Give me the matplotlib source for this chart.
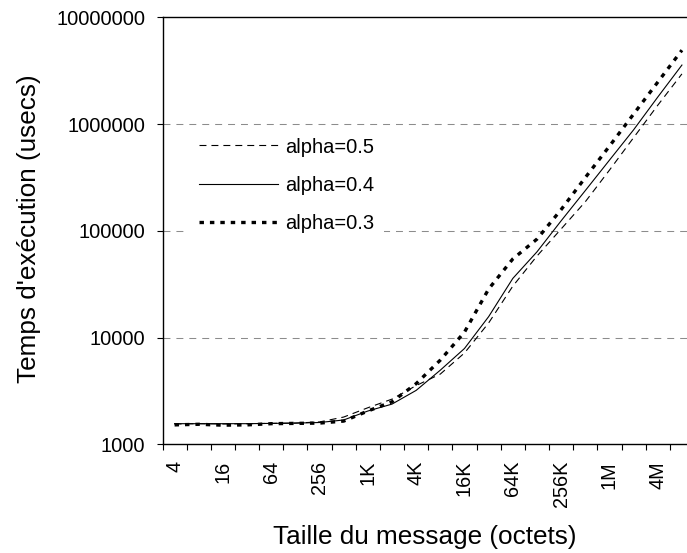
import numpy as np
import matplotlib
matplotlib.use("Agg")
import matplotlib.pyplot as plt
from matplotlib.ticker import FixedLocator, FuncFormatter, NullFormatter

plt.rcParams["font.family"] = ["Liberation Sans", "DejaVu Sans"]
plt.rcParams["lines.scale_dashes"] = False

# message sizes (bytes), one category per power of two
sizes = ["4", "8", "16", "32", "64", "128", "256", "512", "1K", "2K", "4K",
         "8K", "16K", "32K", "64K", "128K", "256K", "512K", "1M", "2M", "4M", "8M"]

# execution time in microseconds
alpha_05 = [1550, 1560, 1550, 1560, 1570, 1580, 1620, 1800, 2200, 2650, 3550,
            4550, 7170, 13700, 30300, 58000, 104000, 187000, 370000, 746000,
            1500000, 2950000]
alpha_04 = [1560, 1560, 1560, 1560, 1570, 1580, 1600, 1690, 2050, 2380, 3200,
            4950, 7900, 15700, 35800, 63500, 124000, 238000, 459000, 883000,
            1790000, 3570000]
alpha_03 = [1520, 1540, 1510, 1520, 1560, 1570, 1580, 1650, 2050, 2500, 3700,
            6150, 11250, 28500, 54500, 83600, 158000, 315000, 621000, 1240000,
            2470000, 4920000]

series = [
    ("alpha=0.5", alpha_05, dict(lw=0.8, linestyle=(0, (5.0, 3.6)))),
    ("alpha=0.4", alpha_04, dict(lw=0.8, linestyle="-")),
    ("alpha=0.3", alpha_03, dict(lw=2.4, linestyle=(0, (3.2, 4.3)),
                                 dash_capstyle="butt")),
]

W, H = 687, 553
fig = plt.figure(figsize=(W / 100, H / 100), dpi=100)
ax = fig.add_axes([162.5 / W, (H - 444.3) / H, 531.5 / W, 427 / H])

x = np.arange(len(sizes))
for label, vals, style in series:
    ax.plot(x, vals, color="black", label=label, **style)

ax.set_yscale("log")
ax.set_ylim(1000, 1e7)
ax.set_xlim(-0.5, len(sizes) - 0.5)

# y axis: decades, plain integer labels
ax.yaxis.set_major_locator(FixedLocator([1e3, 1e4, 1e5, 1e6, 1e7]))
ax.yaxis.set_major_formatter(FuncFormatter(lambda v, p: "%d" % v))
ax.yaxis.set_minor_formatter(NullFormatter())
ax.yaxis.set_minor_locator(FixedLocator([]))
ax.tick_params(axis="y", which="major", direction="out", length=4.3,
               width=0.8, pad=8, labelsize=14.5)

# x axis: ticks between categories, labels on every other category
ax.xaxis.set_major_locator(FixedLocator(np.arange(-0.5, len(sizes), 1)))
ax.xaxis.set_major_formatter(NullFormatter())
ax.xaxis.set_minor_locator(FixedLocator(x[::2]))
ax.set_xticklabels(sizes[::2], minor=True, rotation=90, fontsize=14.3)
ax.tick_params(axis="x", which="major", direction="out", length=4.6, width=0.8)
ax.tick_params(axis="x", which="minor", length=0, pad=12)

for v in [1e4, 1e5, 1e6]:
    ax.axhline(v, color="#8c8c8c", lw=0.75, linestyle=(0, (5.0, 4.3)), zorder=0)

for side in ["left", "bottom", "top"]:
    ax.spines[side].set_linewidth(1.0)
ax.spines["right"].set_visible(False)

ax.set_xlabel("Taille du message (octets)", fontsize=18.8)
ax.set_ylabel("Temps d'exécution (usecs)", fontsize=18.8)
ax.xaxis.set_label_coords(0.493, -0.19)
ax.yaxis.set_label_coords(-0.228, 0.504)

leg = ax.legend(loc="upper left", bbox_to_anchor=(0.05, 0.742),
                borderaxespad=0, fontsize=14.5, handlelength=3.9,
                handletextpad=0.35, labelspacing=0.95, borderpad=0.5,
                frameon=True, fancybox=False)
leg.get_frame().set_facecolor("white")
leg.get_frame().set_edgecolor("none")
leg.get_frame().set_alpha(1)

fig.savefig("out.png", dpi=100)
